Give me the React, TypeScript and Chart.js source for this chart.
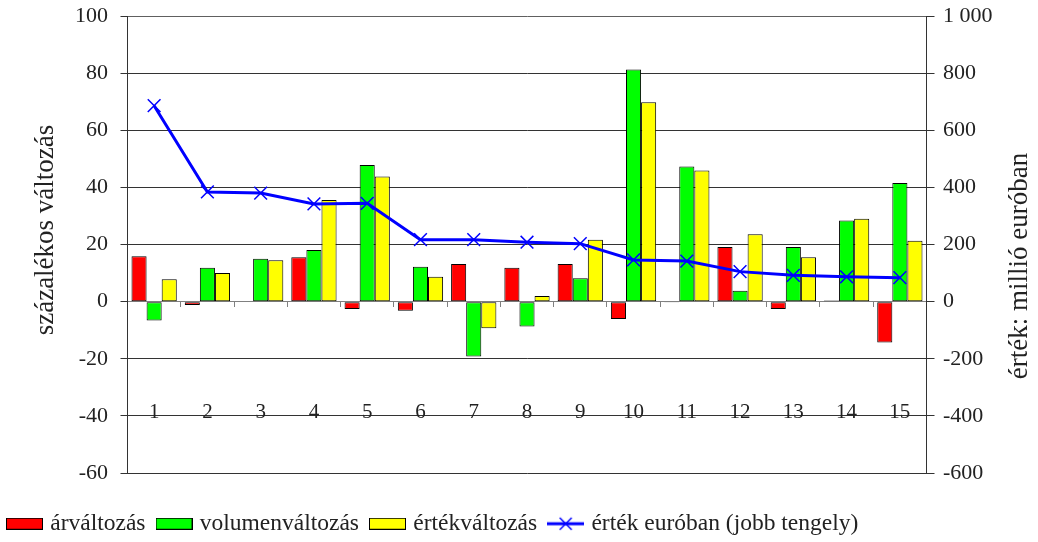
import React, { useEffect, useRef } from 'react';
import { Chart, registerables } from 'chart.js';

Chart.register(...registerables);

const categories = ['1', '2', '3', '4', '5', '6', '7', '8', '9', '10', '11', '12', '13', '14', '15'];
const priceChange = [15.9, -1.2, 0, 15.5, -2.6, -3.2, 13.2, 11.9, 13.2, -6.1, -0.3, 19.1, -2.6, 0.4, -14.3];
const volumeChange = [-6.6, 11.9, 15.0, 18.1, 47.8, 12.2, -19.2, -8.7, 8.2, 81.3, 47.3, 3.8, 19.1, 28.4, 41.5];
const valueChange = [7.8, 10.0, 14.5, 35.6, 43.8, 8.7, -9.3, 2.0, 21.7, 69.8, 45.9, 23.6, 15.5, 29.0, 21.3];
const valueEur = [686, 384, 380, 342, 344, 217, 217, 208, 203, 146, 142, 105, 92, 87, 84];

const pctTicks = [-60, -40, -20, 0, 20, 40, 60, 80, 100];
const eurTickLabels = ['-600', '-400', '-200', '0', '200', '400', '600', '800', '1 000'];
const seriesNames = ['árváltozás', 'volumenváltozás', 'értékváltozás', 'érték euróban (jobb tengely)'];
const leftTitle = 'százalékos változás';
const rightTitle = 'érték: millió euróban';

const FONT = "'Liberation Serif', 'DejaVu Serif', 'Times New Roman', serif";
const TEXT = '#222222';

function makeBoxImage(fill: string): HTMLCanvasElement {
  const c = document.createElement('canvas');
  c.width = 37;
  c.height = 12;
  const g = c.getContext('2d')!;
  g.fillStyle = fill;
  g.fillRect(0, 0, 37, 12);
  g.strokeStyle = '#000000';
  g.lineWidth = 1;
  g.strokeRect(0.5, 0.5, 36, 11);
  return c;
}

function makeLineImage(): HTMLCanvasElement {
  const c = document.createElement('canvas');
  c.width = 37;
  c.height = 16;
  const g = c.getContext('2d')!;
  g.strokeStyle = '#0000FF';
  g.lineWidth = 3;
  g.beginPath();
  g.moveTo(0, 8);
  g.lineTo(37, 8);
  g.stroke();
  g.lineWidth = 1.5;
  g.beginPath();
  g.moveTo(12.5, 2);
  g.lineTo(24.5, 14);
  g.moveTo(12.5, 14);
  g.lineTo(24.5, 2);
  g.stroke();
  return c;
}

export default function App() {
  const ref = useRef<HTMLCanvasElement>(null);

  useEffect(() => {
    if (!ref.current) return;
    const images = [makeBoxImage('#FF0000'), makeBoxImage('#00FF00'), makeBoxImage('#FFFF00'), makeLineImage()];

    const titlePlugin = {
      id: 'axisTitles',
      afterDraw(chart: any) {
        const ctx = chart.ctx as CanvasRenderingContext2D;
        ctx.save();
        ctx.fillStyle = TEXT;
        ctx.font = `27px ${FONT}`;
        ctx.textAlign = 'center';
        ctx.textBaseline = 'middle';
        ctx.translate(46, 230);
        ctx.rotate(-Math.PI / 2);
        ctx.fillText(leftTitle, 0, 0);
        ctx.restore();
        ctx.save();
        ctx.fillStyle = TEXT;
        ctx.font = `27px ${FONT}`;
        ctx.textAlign = 'center';
        ctx.textBaseline = 'middle';
        ctx.translate(1020, 266);
        ctx.rotate(-Math.PI / 2);
        ctx.fillText(rightTitle, 0, 0);
        ctx.restore();
      },
    };

    const barCommon = {
      type: 'bar' as const,
      borderColor: '#000000',
      borderWidth: 1,
      borderSkipped: false,
      yAxisID: 'y',
      order: 1,
      categoryPercentage: 0.85,
      barPercentage: 1.0,
    };

    const chart = new Chart(ref.current, {
      type: 'bar',
      data: {
        labels: categories,
        datasets: [
          { ...barCommon, label: seriesNames[0], data: priceChange, backgroundColor: '#FF0000' },
          { ...barCommon, label: seriesNames[1], data: volumeChange, backgroundColor: '#00FF00' },
          { ...barCommon, label: seriesNames[2], data: valueChange, backgroundColor: '#FFFF00' },
          {
            type: 'line',
            label: seriesNames[3],
            data: valueEur,
            yAxisID: 'y1',
            order: 0,
            borderColor: '#0000FF',
            backgroundColor: '#0000FF',
            borderWidth: 3,
            tension: 0,
            fill: false,
            pointStyle: 'crossRot',
            pointRadius: 9,
            pointBorderWidth: 1.5,
            pointBorderColor: '#0000FF',
            pointBackgroundColor: '#0000FF',
          },
        ] as any,
      },
      options: {
        responsive: false,
        animation: false,
        events: [],
        layout: { padding: { top: 16, left: -4, right: 0, bottom: -3.5 } },
        plugins: {
          tooltip: { enabled: false },
          legend: {
            position: 'bottom',
            align: 'start',
            title: { display: true, text: ' ', font: { size: 10, lineHeight: 1 }, padding: { top: 14.5, bottom: 0 } },
            labels: {
              usePointStyle: true,
              pointStyleWidth: 28,
              boxHeight: 12,
              padding: 14.5,
              color: TEXT,
              font: { family: FONT, size: 23.5 },
              sort: (a: any, b: any) => a.datasetIndex - b.datasetIndex,
              generateLabels: (ch: any) => {
                const items = (Chart.defaults.plugins.legend.labels as any).generateLabels(ch);
                return items.map((it: any) => ({ ...it, pointStyle: images[it.datasetIndex], rotation: 0 }));
              },
            },
          },
        },
        scales: {
          x: {
            type: 'category',
            position: { y: 0 } as any,
            offset: true,
            grid: { display: true, drawOnChartArea: false, drawTicks: true, tickLength: 5, offset: true, color: '#808080' },
            border: { display: true, color: '#808080' },
            ticks: { padding: 93, autoSkip: false, maxRotation: 0, color: TEXT, font: { family: FONT, size: 21 } },
          },
          y: {
            position: 'left',
            min: pctTicks[0],
            max: pctTicks[pctTicks.length - 1],
            afterBuildTicks: (s: any) => { s.ticks = pctTicks.map((v) => ({ value: v })); },
            ticks: { padding: 12.5, color: TEXT, font: { family: FONT, size: 22 } },
            grid: {
              tickLength: 7,
              tickColor: '#333333',
              color: (c: any) => (c.tick && c.tick.value === 0 ? '#808080' : c.tick && c.tick.value === 100 ? '#606060' : '#333333'),
            },
            border: { display: true, color: '#333333' },
            afterFit: (s: any) => { s.width = 131.5; s.paddingTop = 0; s.paddingBottom = 0; },
          },
          y1: {
            position: 'right',
            min: -600,
            max: 1000,
            ticks: {
              stepSize: 200,
              padding: 8.5,
              color: TEXT,
              font: { family: FONT, size: 22 },
              callback: (_v: any, i: number) => eurTickLabels[i],
            },
            grid: { drawOnChartArea: false, tickLength: 8, color: '#333333' },
            border: { display: true, color: '#333333' },
            afterFit: (s: any) => { s.width = 111.5; s.paddingTop = 0; s.paddingBottom = 0; },
          },
        },
      } as any,
      plugins: [titlePlugin],
    });

    return () => chart.destroy();
  }, []);

  return (
    <div style={{ position: 'fixed', left: 0, top: 0, width: 1038, height: 542, background: '#ffffff' }}>
      <canvas ref={ref} width={1038} height={542} style={{ display: 'block' }} />
    </div>
  );
}
